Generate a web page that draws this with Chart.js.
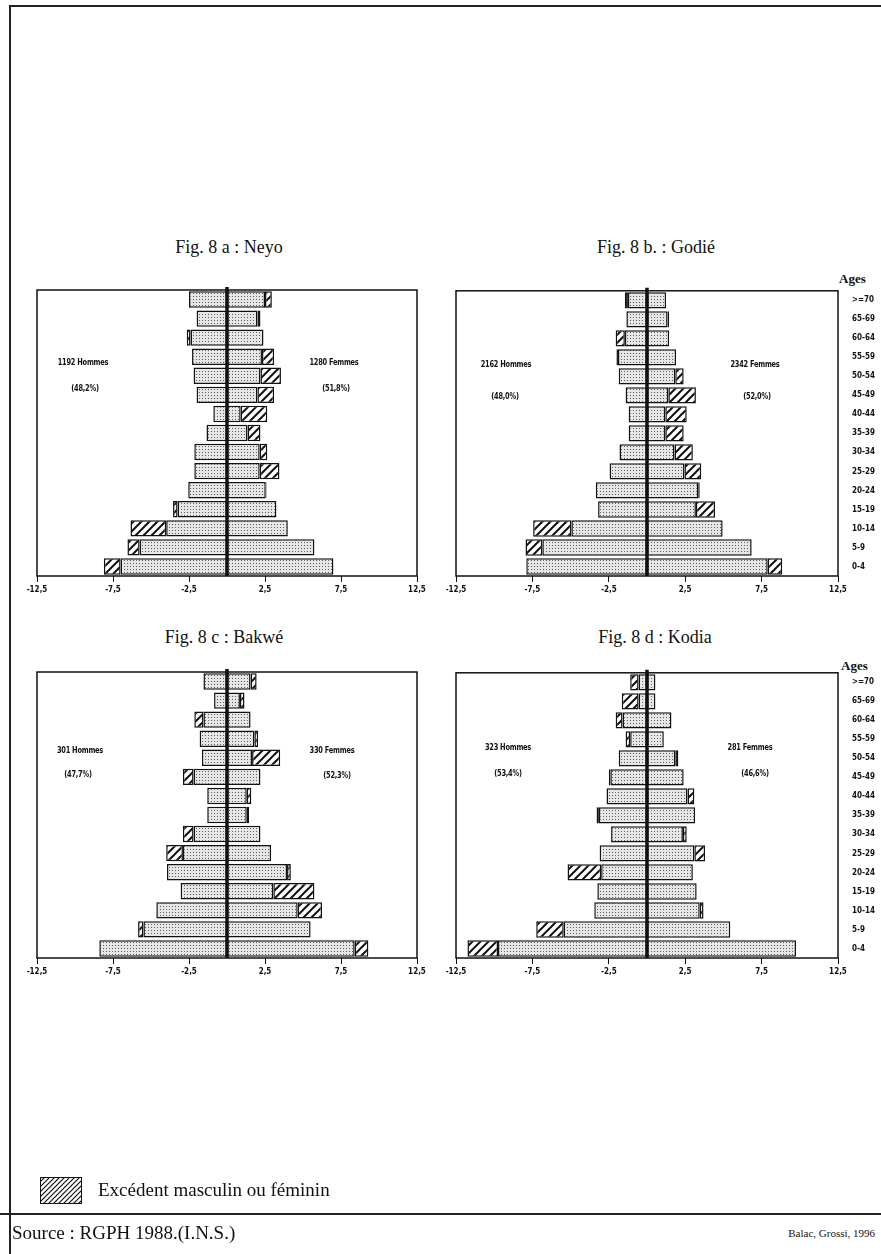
<!DOCTYPE html>
<html lang="fr">
<head>
<meta charset="utf-8">
<title>Pyramides des âges – Neyo, Godié, Bakwé, Kodia</title>
<script src="https://cdn.jsdelivr.net/npm/chart.js@4/dist/chart.umd.min.js"></script>
<style>
  html, body { margin: 0; padding: 0; background: #fff; }
  #page { position: relative; width: 881px; height: 1254px; overflow: hidden; background: #fff; }
  .frame-top { position: absolute; left: 9px; top: 5px; width: 872px; height: 0; border-top: 2px solid #222; }
  .frame-left { position: absolute; left: 9px; top: 5px; width: 0; height: 1249px; border-left: 2px solid #222; }
  .frame-sep { position: absolute; left: 0; top: 1213px; width: 881px; height: 0; border-top: 2px solid #222; }
  canvas { position: absolute; }
  .title { position: absolute; font-family: "Liberation Serif", "Times New Roman", serif; font-size: 18px; color: #111; white-space: nowrap; transform: translateX(-50%); }
  .note { position: absolute; font-family: "Liberation Sans Narrow", "DejaVu Sans Condensed", sans-serif; font-weight: bold; font-size: 9px; color: #111; white-space: nowrap; transform: translate(-50%, -50%) scaleX(0.82); letter-spacing: -0.3px; }
  .ages { position: absolute; font-family: "Liberation Serif", serif; font-weight: bold; font-size: 13px; color: #111; }
  .legend-box { position: absolute; left: 40px; top: 1177px; width: 42px; height: 27px; border: 1.5px solid #111; box-sizing: border-box; }
  .legend-text { position: absolute; left: 98px; top: 1179px; font-family: "Liberation Serif", serif; font-size: 19px; color: #111; white-space: nowrap; }
  .source { position: absolute; left: 12px; top: 1222px; font-family: "Liberation Serif", serif; font-size: 19px; color: #111; white-space: nowrap; }
  .credit { position: absolute; right: 6px; top: 1227px; font-family: "Liberation Serif", serif; font-size: 11px; color: #111; white-space: nowrap; }
</style>
</head>
<body>
<div id="page">
  <div class="frame-top"></div>
  <div class="frame-left"></div>
  <div class="frame-sep"></div>

  <div class="title" style="left:229px; top:237px;">Fig. 8 a : Neyo</div>
  <div class="title" style="left:656px; top:237px;">Fig. 8 b. : Godié</div>
  <div class="title" style="left:224px; top:627px;">Fig. 8 c : Bakwé</div>
  <div class="title" style="left:655px; top:627px;">Fig. 8 d : Kodia</div>

  <div class="ages" style="left:839px; top:271px;">Ages</div>
  <div class="ages" style="left:841px; top:658px;">Ages</div>

  <canvas id="chartNeyo" width="430" height="330" style="left:15px; top:280px;"></canvas>
  <canvas id="chartGodie" width="441" height="330" style="left:440px; top:280px;"></canvas>
  <canvas id="chartBakwe" width="430" height="330" style="left:15px; top:662px;"></canvas>
  <canvas id="chartKodia" width="441" height="330" style="left:440px; top:662px;"></canvas>

  <div class="note" style="left:83px; top:362px;">1192 Hommes</div>
  <div class="note" style="left:85px; top:388px;">(48,2%)</div>
  <div class="note" style="left:334px; top:362px;">1280 Femmes</div>
  <div class="note" style="left:336px; top:388px;">(51,8%)</div>

  <div class="note" style="left:506px; top:364px;">2162 Hommes</div>
  <div class="note" style="left:505px; top:396px;">(48,0%)</div>
  <div class="note" style="left:755px; top:364px;">2342 Femmes</div>
  <div class="note" style="left:757px; top:396px;">(52,0%)</div>

  <div class="note" style="left:80px; top:750px;">301 Hommes</div>
  <div class="note" style="left:78px; top:774px;">(47,7%)</div>
  <div class="note" style="left:332px; top:750px;">330 Femmes</div>
  <div class="note" style="left:337px; top:775px;">(52,3%)</div>

  <div class="note" style="left:508px; top:747px;">323 Hommes</div>
  <div class="note" style="left:508px; top:773px;">(53,4%)</div>
  <div class="note" style="left:750px; top:747px;">281 Femmes</div>
  <div class="note" style="left:755px; top:773px;">(46,6%)</div>

  <canvas id="legendSwatch" width="42" height="27" style="left:40px; top:1177px;"></canvas>
  <div class="legend-box"></div>
  <div class="legend-text">Excédent masculin ou féminin</div>
  <div class="source">Source : RGPH 1988.(I.N.S.)</div>
  <div class="credit">Balac, Grossi, 1996</div>
</div>

<script>
// Age groups, top of the pyramid first
const ageGroups = ['>=70', '65-69', '60-64', '55-59', '50-54', '45-49', '40-44', '35-39',
                   '30-34', '25-29', '20-24', '15-19', '10-14', '5-9', '0-4'];

// Share of the total population (%) per age group
const neyoHommes  = [2.5, 2.0, 2.65, 2.3, 2.2, 2.0, 0.9, 1.35, 2.15, 2.15, 2.55, 3.55, 6.35, 6.55, 8.1];
const neyoFemmes  = [2.95, 2.2, 2.4, 3.1, 3.55, 3.1, 2.65, 2.2, 2.65, 3.45, 2.6, 3.25, 4.0, 5.75, 7.0];

const godieHommes = [1.45, 1.35, 2.05, 2.0, 1.85, 1.4, 1.2, 1.2, 1.8, 2.45, 3.35, 3.2, 7.45, 7.95, 7.9];
const godieFemmes = [1.25, 1.45, 1.45, 1.9, 2.4, 3.2, 2.6, 2.4, 3.0, 3.55, 3.45, 4.45, 4.95, 6.85, 8.85];

const bakweHommes = [1.55, 0.85, 2.15, 1.8, 1.65, 2.9, 1.3, 1.3, 2.9, 4.0, 3.95, 3.05, 4.65, 5.85, 8.4];
const bakweFemmes = [1.95, 1.15, 1.55, 2.05, 3.5, 2.2, 1.6, 1.45, 2.2, 2.9, 4.2, 5.75, 6.25, 5.5, 9.3];

const kodiaHommes = [1.1, 1.65, 2.05, 1.4, 1.85, 2.5, 2.65, 3.3, 2.35, 3.1, 5.2, 3.25, 3.45, 7.25, 11.75];
const kodiaFemmes = [0.55, 0.55, 1.6, 1.1, 2.05, 2.4, 3.1, 3.15, 2.6, 3.8, 3.0, 3.25, 3.7, 5.45, 9.75];

// Horizontal axis
const axisMin = -12.5;
const axisMax = 12.5;
const axisStep = 5;

// Fill patterns: stippled grey for the shared part, diagonal hatching for the excess
function makeDotPattern() {
  const c = document.createElement('canvas');
  c.width = 3; c.height = 3;
  const g = c.getContext('2d');
  g.fillStyle = '#e6e6e6';
  g.fillRect(0, 0, 3, 3);
  g.fillStyle = '#5e5e5e';
  g.fillRect(1, 1, 1, 1);
  return g.createPattern(c, 'repeat');
}
function makeHatchPattern(size, width) {
  const s = size;
  const c = document.createElement('canvas');
  c.width = s; c.height = s;
  const g = c.getContext('2d');
  g.fillStyle = '#ffffff';
  g.fillRect(0, 0, s, s);
  g.strokeStyle = '#111';
  g.lineWidth = width;
  g.beginPath();
  g.moveTo(-1, s + 1); g.lineTo(s + 1, -1);
  g.moveTo(-1, 1); g.lineTo(1, -1);
  g.moveTo(s - 1, s + 1); g.lineTo(s + 1, s - 1);
  g.stroke();
  return g.createPattern(c, 'repeat');
}
const dotFill = makeDotPattern();
const hatchFill = makeHatchPattern(8, 2);

// Legend swatch (finer hatching)
(function () {
  const g = document.getElementById('legendSwatch').getContext('2d');
  g.fillStyle = makeHatchPattern(5, 1.2);
  g.fillRect(0, 0, 42, 27);
})();

// Frame around the plot area and the thick axis at zero
const pyramidFrame = {
  id: 'pyramidFrame',
  afterDatasetsDraw(chart) {
    const { ctx, chartArea: a, scales } = chart;
    ctx.save();
    ctx.strokeStyle = '#111';
    ctx.lineWidth = 1.5;
    ctx.strokeRect(a.left, a.top, a.right - a.left, a.bottom - a.top);
    const x0 = scales.x.getPixelForValue(0);
    ctx.lineWidth = 3.5;
    ctx.beginPath();
    ctx.moveTo(x0, a.top - 3);
    ctx.lineTo(x0, a.bottom);
    ctx.stroke();
    ctx.restore();
  }
};

const tickFont = { family: '"Liberation Sans Narrow", "DejaVu Sans Condensed", sans-serif', size: 8, weight: 'bold' };

function buildPyramid(canvasId, hommes, femmes, opts) {
  const shared = hommes.map((h, i) => Math.min(h, femmes[i]));
  const excesH = hommes.map((h, i) => (h > femmes[i] ? h - femmes[i] : null));
  const excesF = femmes.map((f, i) => (f > hommes[i] ? f - hommes[i] : null));

  const barStyle = {
    borderColor: '#111',
    borderWidth: 1.5,
    borderSkipped: false,
    barPercentage: 0.86,
    categoryPercentage: 1.0,
    stack: 'pyramide'
  };

  return new Chart(document.getElementById(canvasId), {
    type: 'bar',
    data: {
      labels: ageGroups,
      datasets: [
        Object.assign({ label: 'Hommes', data: shared.map(v => -v), backgroundColor: dotFill }, barStyle),
        Object.assign({ label: 'Excédent masculin', data: excesH.map(v => (v === null ? null : -v)), backgroundColor: hatchFill }, barStyle),
        Object.assign({ label: 'Femmes', data: shared.slice(), backgroundColor: dotFill }, barStyle),
        Object.assign({ label: 'Excédent féminin', data: excesF, backgroundColor: hatchFill }, barStyle)
      ]
    },
    options: {
      indexAxis: 'y',
      responsive: false,
      animation: false,
      devicePixelRatio: 1,
      layout: { padding: { left: opts.padLeft, top: opts.padTop, right: 0, bottom: 4 } },
      plugins: { legend: { display: false }, tooltip: { enabled: false } },
      scales: {
        x: {
          stacked: true,
          min: axisMin,
          max: axisMax,
          ticks: {
            stepSize: axisStep,
            color: '#111',
            font: tickFont,
            padding: 3,
            maxRotation: 0,
            callback: v => String(v).replace('.', ',')
          },
          grid: { display: true, drawOnChartArea: false, drawTicks: true, tickLength: 6, color: '#111', lineWidth: 1 },
          border: { display: false },
          afterFit: s => { s.height = opts.xHeight; }
        },
        y: {
          stacked: true,
          position: 'right',
          ticks: { display: opts.showAges, color: '#111', font: tickFont, padding: 6 },
          grid: { display: false },
          border: { display: false },
          afterFit: s => { s.width = opts.yWidth; }
        }
      }
    },
    plugins: [pyramidFrame]
  });
}

buildPyramid('chartNeyo',  neyoHommes,  neyoFemmes,  { padLeft: 22, padTop: 10, yWidth: 28, xHeight: 30, showAges: false });
buildPyramid('chartGodie', godieHommes, godieFemmes, { padLeft: 16, padTop: 10, yWidth: 43, xHeight: 30, showAges: true });
buildPyramid('chartBakwe', bakweHommes, bakweFemmes, { padLeft: 22, padTop: 10, yWidth: 28, xHeight: 30, showAges: false });
buildPyramid('chartKodia', kodiaHommes, kodiaFemmes, { padLeft: 16, padTop: 10, yWidth: 43, xHeight: 30, showAges: true });
</script>
</body>
</html>
